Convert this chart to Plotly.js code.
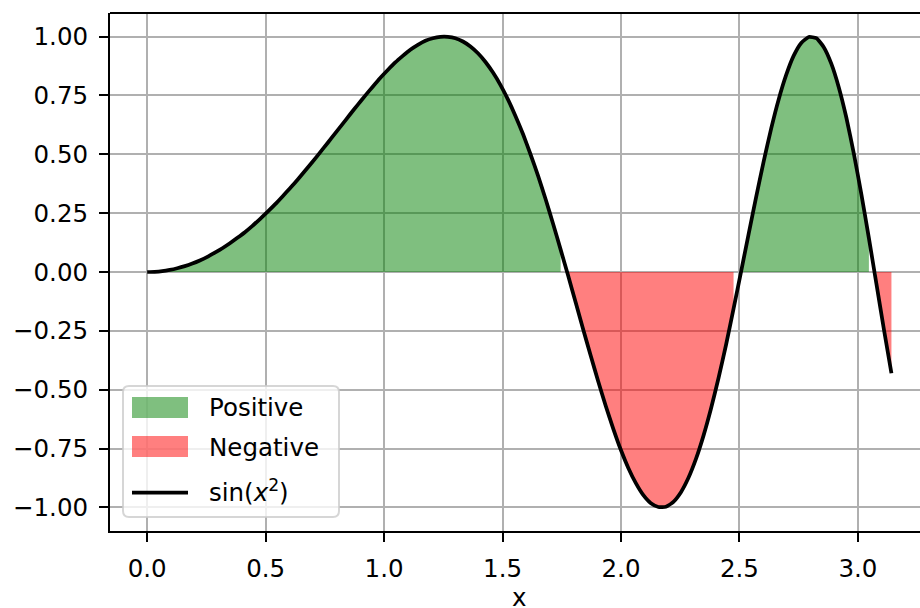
<!DOCTYPE html>
<html>
<head>
<meta charset="utf-8">
<script src="https://cdn.plot.ly/plotly-3.0.1.min.js"></script>
<style>html,body{margin:0;padding:0;background:#fff;}#chart{width:920px;height:608px;}</style>
</head>
<body>
<div id="chart"></div>
<script>
// Sample positions (x) and curve values sin(x^2)
const xValues = [
0.0000,0.0317,0.0635,0.0952,0.1269,0.1587,0.1904,0.2221,0.2539,0.2856,
0.3173,0.3491,0.3808,0.4125,0.4443,0.4760,0.5077,0.5395,0.5712,0.6029,
0.6347,0.6664,0.6981,0.7299,0.7616,0.7933,0.8251,0.8568,0.8885,0.9203,
0.9520,0.9837,1.0155,1.0472,1.0789,1.1107,1.1424,1.1741,1.2059,1.2376,
1.2693,1.3011,1.3328,1.3645,1.3963,1.4280,1.4597,1.4915,1.5232,1.5549,
1.5867,1.6184,1.6501,1.6819,1.7136,1.7453,1.7771,1.8088,1.8405,1.8723,
1.9040,1.9357,1.9675,1.9992,2.0309,2.0627,2.0944,2.1261,2.1579,2.1896,
2.2213,2.2531,2.2848,2.3165,2.3483,2.3800,2.4117,2.4435,2.4752,2.5069,
2.5387,2.5704,2.6021,2.6339,2.6656,2.6973,2.7291,2.7608,2.7925,2.8243,
2.8560,2.8877,2.9195,2.9512,2.9829,3.0147,3.0464,3.0781,3.1099,3.1416];
const yValues = [
0.000,0.001,0.004,0.009,0.016,0.025,0.036,0.049,0.064,0.082,
0.101,0.122,0.145,0.169,0.196,0.225,0.255,0.287,0.321,0.356,
0.392,0.430,0.468,0.508,0.548,0.589,0.629,0.670,0.710,0.749,
0.787,0.824,0.858,0.890,0.918,0.944,0.965,0.982,0.993,0.999,
0.999,0.993,0.979,0.958,0.929,0.892,0.847,0.794,0.732,0.662,
0.585,0.499,0.408,0.309,0.204,0.095,-0.016,-0.130,-0.244,-0.356,
-0.465,-0.569,-0.666,-0.755,-0.832,-0.897,-0.948,-0.982,-0.998,-0.997,
-0.976,-0.935,-0.874,-0.794,-0.695,-0.580,-0.450,-0.309,-0.156,0.002,
0.161,0.318,0.469,0.609,0.733,0.837,0.919,0.973,0.998,0.993,
0.955,0.885,0.784,0.656,0.503,0.330,0.144,-0.050,-0.244,-0.430];

const xTickVals = [0.0,0.5,1.0,1.5,2.0,2.5,3.0];
const xTickText = ["0.0","0.5","1.0","1.5","2.0","2.5","3.0"];
const yTickVals = [1.0,0.75,0.5,0.25,0.0,-0.25,-0.5,-0.75,-1.0];
const yTickText = ["1.00","0.75","0.50","0.25","0.00","\u22120.25","\u22120.50","\u22120.75","\u22121.00"];
const legendLabels = ["Positive","Negative","sin(<i>x</i><sup>2</sup>)"];
const xAxisTitle = "x";

const GREEN = "rgba(0,128,0,0.5)";
const RED = "rgba(255,0,0,0.5)";
const FONT = "DejaVu Sans, Verdana, sans-serif";
const FS = 24.5;

// build fill polygons (like fill_between with where, no interpolation)
function runs(pred){
  const out=[]; let s=-1;
  for(let i=0;i<yValues.length;i++){
    if(pred(yValues[i])){ if(s<0) s=i; }
    else if(s>=0){ out.push([s,i-1]); s=-1; }
  }
  if(s>=0) out.push([s,yValues.length-1]);
  return out;
}
function polyTraces(pred,color){
  return runs(pred).map(([a,b])=>{
    const px=[],py=[];
    for(let i=a;i<=b;i++){px.push(xValues[i]);py.push(yValues[i]);}
    for(let i=b;i>=a;i--){px.push(xValues[i]);py.push(0);}
    px.push(xValues[a]);py.push(yValues[a]);
    return {type:"scatter",mode:"lines",x:px,y:py,fill:"toself",fillcolor:color,
      line:{width:0,color:color},hoverinfo:"skip",showlegend:false};
  });
}
const traces = [
  ...polyTraces(v=>v>0,GREEN),
  ...polyTraces(v=>v<0,RED),
  {type:"scatter",mode:"lines",x:xValues,y:yValues,
   line:{color:"black",width:3.75,shape:"spline",smoothing:0.5},showlegend:false}
];

// pixel -> paper helpers for the hand-drawn legend
const L=110, T=13, W=810, H=518;
const px2x = p => (p-L)/W;
const px2y = p => (T+H-p)/H;

function roundRect(x0,y0,x1,y1,r){
  const rx=r/W, ry=r/H;
  const a=px2x(x0),b=px2x(x1),top=px2y(y0),bot=px2y(y1);
  return `M ${a+rx},${top} L ${b-rx},${top} Q ${b},${top} ${b},${top-ry} L ${b},${bot+ry} Q ${b},${bot} ${b-rx},${bot} L ${a+rx},${bot} Q ${a},${bot} ${a},${bot+ry} L ${a},${top-ry} Q ${a},${top} ${a+rx},${top} Z`;
}

const shapes = [
  {type:"line",xref:"paper",yref:"paper",x0:0,x1:1.02,y0:1,y1:1,line:{color:"black",width:2}},
  {type:"path",xref:"paper",yref:"paper",path:roundRect(123,386,339,517,6),
   fillcolor:"rgba(255,255,255,0.8)",line:{color:"rgba(204,204,204,0.8)",width:2},layer:"above"},
  {type:"rect",xref:"paper",yref:"paper",x0:px2x(132),x1:px2x(188),y0:px2y(397),y1:px2y(418),
   fillcolor:GREEN,line:{width:0},layer:"above"},
  {type:"rect",xref:"paper",yref:"paper",x0:px2x(132),x1:px2x(188),y0:px2y(436),y1:px2y(457),
   fillcolor:RED,line:{width:0},layer:"above"},
  {type:"line",xref:"paper",yref:"paper",x0:px2x(132),x1:px2x(188),y0:px2y(492.5),y1:px2y(492.5),
   line:{color:"black",width:3.75},layer:"above"}
];
const legendY=[407.5,447,491];
const annotations = legendLabels.map((t,i)=>({
  xref:"paper",yref:"paper",x:px2x(207),y:px2y(legendY[i]),xanchor:"left",yanchor:"middle",
  text:t,showarrow:false,font:{family:FONT,size:FS,color:"black"}
}));
// x-axis label (placed as annotation so it can sit below the margin limit)
annotations.push({xref:"paper",yref:"paper",x:px2x(519),y:px2y(597),xanchor:"center",yanchor:"middle",
  text:xAxisTitle,showarrow:false,font:{family:FONT,size:FS,color:"black"}});

const layout = {
  width:920,height:608,
  margin:{l:L,r:920-L-W,t:T,b:608-T-H,pad:0},
  paper_bgcolor:"white",plot_bgcolor:"white",
  showlegend:false,
  font:{family:FONT,size:FS,color:"black"},
  xaxis:{range:[-0.157,-0.157+W/236.9],tickvals:xTickVals,ticktext:xTickText,
    showgrid:true,gridcolor:"#b0b0b0",gridwidth:2,zeroline:false,
    showline:true,linecolor:"black",linewidth:2,mirror:false,
    ticks:"outside",ticklen:9,tickwidth:2,tickcolor:"black",ticklabelstandoff:6,
    tickfont:{family:FONT,size:FS,color:"black"},automargin:false},
  yaxis:{range:[-1.1,1.1],tickvals:yTickVals,ticktext:yTickText,
    showgrid:true,gridcolor:"#b0b0b0",gridwidth:2,zeroline:false,
    showline:true,linecolor:"black",linewidth:2,mirror:false,
    ticks:"outside",ticklen:9,tickwidth:2,tickcolor:"black",ticklabelstandoff:6,
    tickfont:{family:FONT,size:FS,color:"black"},automargin:false},
  shapes:shapes,
  annotations:annotations
};
Plotly.newPlot("chart",traces,layout,{displayModeBar:false,staticPlot:true});
</script>
</body>
</html>
